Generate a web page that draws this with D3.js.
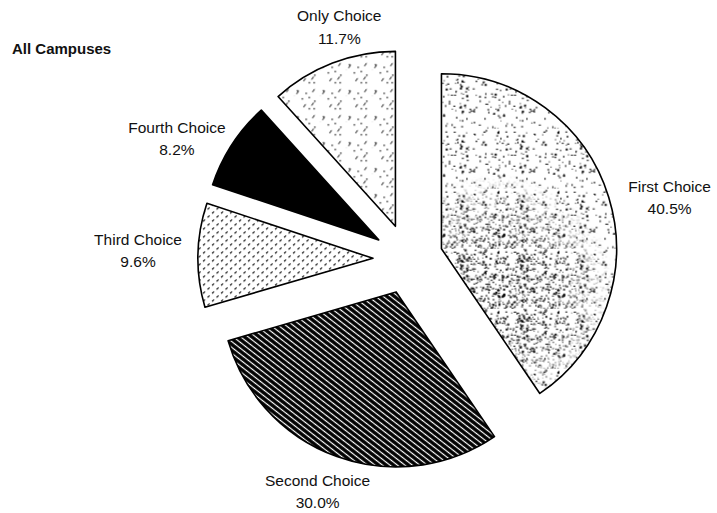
<!DOCTYPE html>
<html><head><meta charset="utf-8">
<script src="https://cdn.jsdelivr.net/npm/d3@7"></script>
<style>body{margin:0;background:#fff}svg{display:block}</style>
</head><body><svg id="c" width="717" height="513"></svg>
<script>
// ---- data ----
const categories = ["First Choice", "Second Choice", "Third Choice", "Fourth Choice", "Only Choice"];
const values = [40.5, 30.0, 9.6, 8.2, 11.7];
const valueLabels = ["40.5%", "30.0%", "9.6%", "8.2%", "11.7%"];
const title = "All Campuses";

// ---- layout / style ----
const W = 717, H = 513;
const cx = 408, cy = 259, R = 175, explode = 35, labelR = 258;
const fills = ["url(#pFirst)", "url(#pSecond)", "url(#pThird)", "#000", "url(#pOnly)"];
const labelNudge = [[15, 15], [-3, -10], [-12, -3], [-15, 21], [24, 9]];

const svg = d3.select("#c");
svg.append("rect").attr("width", W).attr("height", H).attr("fill", "#fff");
const defs = svg.append("defs");

// seeded pseudo-random for texture only
let seed = 12345;
const rnd = () => (seed = (seed * 16807) % 2147483647) / 2147483647;

function stipple(id, size, n, bg) {
  const p = defs.append("pattern").attr("id", id).attr("patternUnits", "userSpaceOnUse")
    .attr("width", size).attr("height", size);
  if (bg) p.append("rect").attr("width", size).attr("height", size).attr("fill", bg);
  for (let i = 0; i < n; i++) {
    const w = 1 + Math.round(rnd()), h = 1 + Math.round(rnd() * 0.7);
    p.append("rect").attr("x", (rnd() * size).toFixed(1)).attr("y", (rnd() * size).toFixed(1))
      .attr("width", w).attr("height", h).attr("fill", "#000");
  }
}
stipple("pFirst", 60, 130, "#fff");
stipple("pFirstDense", 60, 300, null);

// dense region (local coords of the First Choice slice, origin at its apex)
const rg = defs.append("radialGradient").attr("id", "gDense").attr("gradientUnits", "userSpaceOnUse")
  .attr("cx", 55).attr("cy", 45).attr("r", 120);
rg.append("stop").attr("offset", 0).attr("stop-color", "#fff");
rg.append("stop").attr("offset", 0.5).attr("stop-color", "#fff").attr("stop-opacity", 0.85);
rg.append("stop").attr("offset", 1).attr("stop-color", "#fff").attr("stop-opacity", 0);
const mk = defs.append("mask").attr("id", "mDense").attr("maskUnits", "userSpaceOnUse")
  .attr("x", -400).attr("y", -400).attr("width", 800).attr("height", 800);
mk.append("rect").attr("x", -400).attr("y", -400).attr("width", 800).attr("height", 800).attr("fill", "url(#gDense)");

// Second choice: black with white diagonal stripes
const p2 = defs.append("pattern").attr("id", "pSecond").attr("patternUnits", "userSpaceOnUse")
  .attr("width", 10).attr("height", 4.6).attr("patternTransform", "rotate(38)");
p2.append("rect").attr("width", 10).attr("height", 4.6).attr("fill", "#000");
p2.append("line").attr("x1", 0).attr("x2", 10).attr("y1", 2.3).attr("y2", 2.3)
  .attr("stroke", "#fff").attr("stroke-width", 1.2);

// Third choice: small slanted dashes
const p3 = defs.append("pattern").attr("id", "pThird").attr("patternUnits", "userSpaceOnUse")
  .attr("width", 9).attr("height", 8);
p3.append("rect").attr("width", 9).attr("height", 8).attr("fill", "#fff");
p3.append("path").attr("d", "M1,3L3.2,1.4M5.5,7L7.7,5.4").attr("stroke", "#000").attr("stroke-width", 1.1);

// Only choice: sparse dots and dashes
const p5 = defs.append("pattern").attr("id", "pOnly").attr("patternUnits", "userSpaceOnUse")
  .attr("width", 26).attr("height", 26);
p5.append("rect").attr("width", 26).attr("height", 26).attr("fill", "#fff");
for (let i = 0; i < 8; i++) {
  p5.append("rect").attr("x", (rnd() * 26).toFixed(1)).attr("y", (rnd() * 26).toFixed(1))
    .attr("width", 1.3).attr("height", 1.3).attr("fill", "#000");
}
for (let i = 0; i < 4; i++) {
  const x = rnd() * 24, y = rnd() * 24;
  p5.append("path").attr("d", `M${x.toFixed(1)},${(y + 3).toFixed(1)}l2,-3`)
    .attr("stroke", "#000").attr("stroke-width", 1);
}

// ---- pie ----
const pie = d3.pie().sort(null).startAngle(0).endAngle(2 * Math.PI).value(d => d);
const arcs = pie(values);
const arc = d3.arc().innerRadius(0).outerRadius(R);

const g = svg.append("g").attr("transform", `translate(${cx},${cy})`);
arcs.forEach((a, i) => {
  const mid = (a.startAngle + a.endAngle) / 2;
  const dx = explode * Math.sin(mid), dy = -explode * Math.cos(mid);
  const sg = g.append("g").attr("transform", `translate(${dx},${dy})`);
  sg.append("path").attr("d", arc(a)).attr("fill", fills[i]);
  if (i === 0) {
    sg.append("path").attr("d", arc(a)).attr("fill", "url(#pFirstDense)").attr("mask", "url(#mDense)");
  }
  sg.append("path").attr("d", arc(a)).attr("fill", "none").attr("stroke", "#000")
    .attr("stroke-width", 1.6).attr("stroke-linejoin", "round");

  const lx = cx + labelR * Math.sin(mid) + labelNudge[i][0];
  const ly = cy - labelR * Math.cos(mid) + labelNudge[i][1];
  const t = svg.append("text").attr("x", lx).attr("y", ly).attr("text-anchor", "middle")
    .attr("font-family", "'Liberation Sans', Arial, sans-serif").attr("font-size", 15.5).attr("fill", "#111");
  t.append("tspan").attr("x", lx).attr("dy", "-0.4em").text(categories[i]);
  t.append("tspan").attr("x", lx).attr("dy", "1.45em").text(valueLabels[i]);
});

svg.append("text").attr("x", 12).attr("y", 54)
  .attr("font-family", "'Liberation Sans', Arial, sans-serif").attr("font-weight", "bold")
  .attr("font-size", 15).attr("fill", "#111").text(title);
</script>
</body></html>
